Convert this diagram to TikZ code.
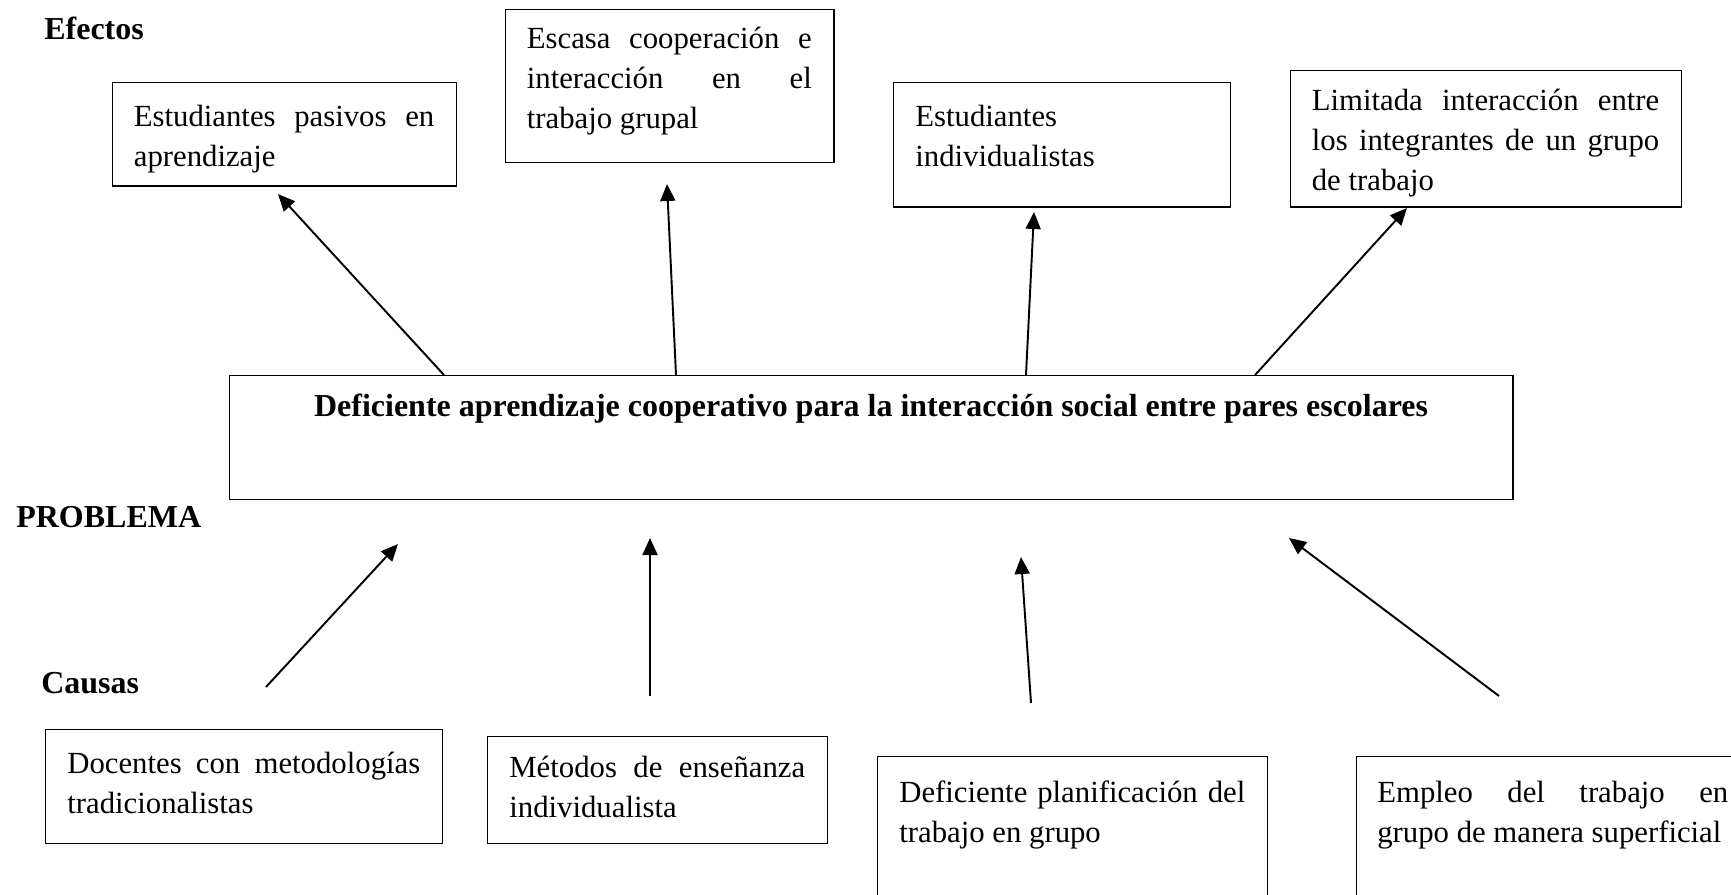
\documentclass[tikz,border=0pt]{standalone}
\usepackage{fontspec}
\setmainfont{Liberation Serif}
\usetikzlibrary{arrows.meta,positioning}

\tikzset{
  caja/.style={draw, line width=0.8pt, anchor=north west, inner sep=0pt},
  texto/.style={anchor=north west, inner sep=0pt, align=justify, font=\fontsize{17.5}{22.8}\selectfont},
  etiqueta/.style={anchor=west, inner sep=0pt, font=\fontsize{18.2}{22.8}\selectfont\bfseries},
  flecha/.style={line width=1.1pt, -{Triangle[length=0.34cm,width=0.3cm]}}
}

\begin{document}
\begin{tikzpicture}[x=0.02cm,y=-0.02cm]
\useasboundingbox (0,0) rectangle (1731,894);
\node[etiqueta] (efectos) at (44,28) {Efectos};
\node[etiqueta] (problema) at (16,517) {PROBLEMA};
\node[etiqueta] (causas) at (41,683) {Causas};

\node[caja, minimum width=6.89cm, minimum height=2.07cm] (e1) at (111.5,82) {};
\node[texto, text width=6.01cm] (t1) at ([shift={(0.44cm,-0.45cm)}]e1.north west) {Estudiantes pasivos en\linebreak aprendizaje};
\node[caja, minimum width=6.58cm, minimum height=3.06cm] (e2) at (504.5,9) {};
\node[texto, text width=5.70cm] (t2) at ([shift={(0.44cm,-0.36cm)}]e2.north west) {Escasa cooperación e\linebreak interacción en el\linebreak trabajo grupal};
\node[caja, minimum width=6.74cm, minimum height=2.49cm] (e3) at (893,82) {};
\node[texto, text width=5.86cm] (t3) at ([shift={(0.44cm,-0.45cm)}]e3.north west) {Estudiantes\newline individualistas};
\node[caja, minimum width=7.83cm, minimum height=2.74cm] (e4) at (1289.5,69.5) {};
\node[texto, text width=6.95cm] (t4) at ([shift={(0.44cm,-0.38cm)}]e4.north west) {Limitada interacción entre\linebreak los integrantes de un grupo\linebreak de trabajo};

\node[caja, minimum width=25.68cm, minimum height=2.48cm] (prob) at (228.5,375) {};
\node[texto, anchor=north, font=\fontsize{18.2}{22.8}\selectfont\bfseries] (tp) at ([yshift=-0.38cm]prob.north) {Deficiente aprendizaje cooperativo para la interacción social entre pares escolares};

\node[caja, minimum width=7.94cm, minimum height=2.28cm] (d1) at (45,729) {};
\node[texto, text width=7.06cm] (s1) at ([shift={(0.44cm,-0.45cm)}]d1.north west) {Docentes con metodologías\linebreak tradicionalistas};
\node[caja, minimum width=6.80cm, minimum height=2.14cm] (d2) at (487,736) {};
\node[texto, text width=5.92cm] (s2) at ([shift={(0.44cm,-0.4cm)}]d2.north west) {Métodos de enseñanza\linebreak individualista};
\node[caja, minimum width=7.80cm, minimum height=3.00cm] (d3) at (877,756) {};
\node[texto, text width=6.92cm] (s3) at ([shift={(0.44cm,-0.49cm)}]d3.north west) {Deficiente planificación del\linebreak trabajo en grupo};
\node[caja, minimum width=7.96cm, minimum height=3.00cm] (d4) at (1356,756) {};
\node[texto, text width=7.02cm] (s4) at ([shift={(0.42cm,-0.49cm)}]d4.north west) {Empleo del trabajo en\linebreak \mbox{grupo de manera superficial}};

\coordinate (a1) at (444,375); \coordinate (b1) at (278,194);
\coordinate (a2) at (676,375); \coordinate (b2) at (667,184);
\coordinate (a3) at (1026,375); \coordinate (b3) at (1034,212);
\coordinate (a4) at (1255,375); \coordinate (b4) at (1407,208);
\draw[flecha] (a1) -- (b1);
\draw[flecha] (a2) -- (b2);
\draw[flecha] (a3) -- (b3);
\draw[flecha] (a4) -- (b4);

\coordinate (c1) at (266,687); \coordinate (f1) at (398,544);
\coordinate (c2) at (650,696); \coordinate (f2) at (650,538);
\coordinate (c3) at (1031,703); \coordinate (f3) at (1021,557);
\coordinate (c4) at (1499,696); \coordinate (f4) at (1289,538);
\draw[flecha] (c1) -- (f1);
\draw[flecha] (c2) -- (f2);
\draw[flecha] (c3) -- (f3);
\draw[flecha] (c4) -- (f4);
\end{tikzpicture}
\end{document}
